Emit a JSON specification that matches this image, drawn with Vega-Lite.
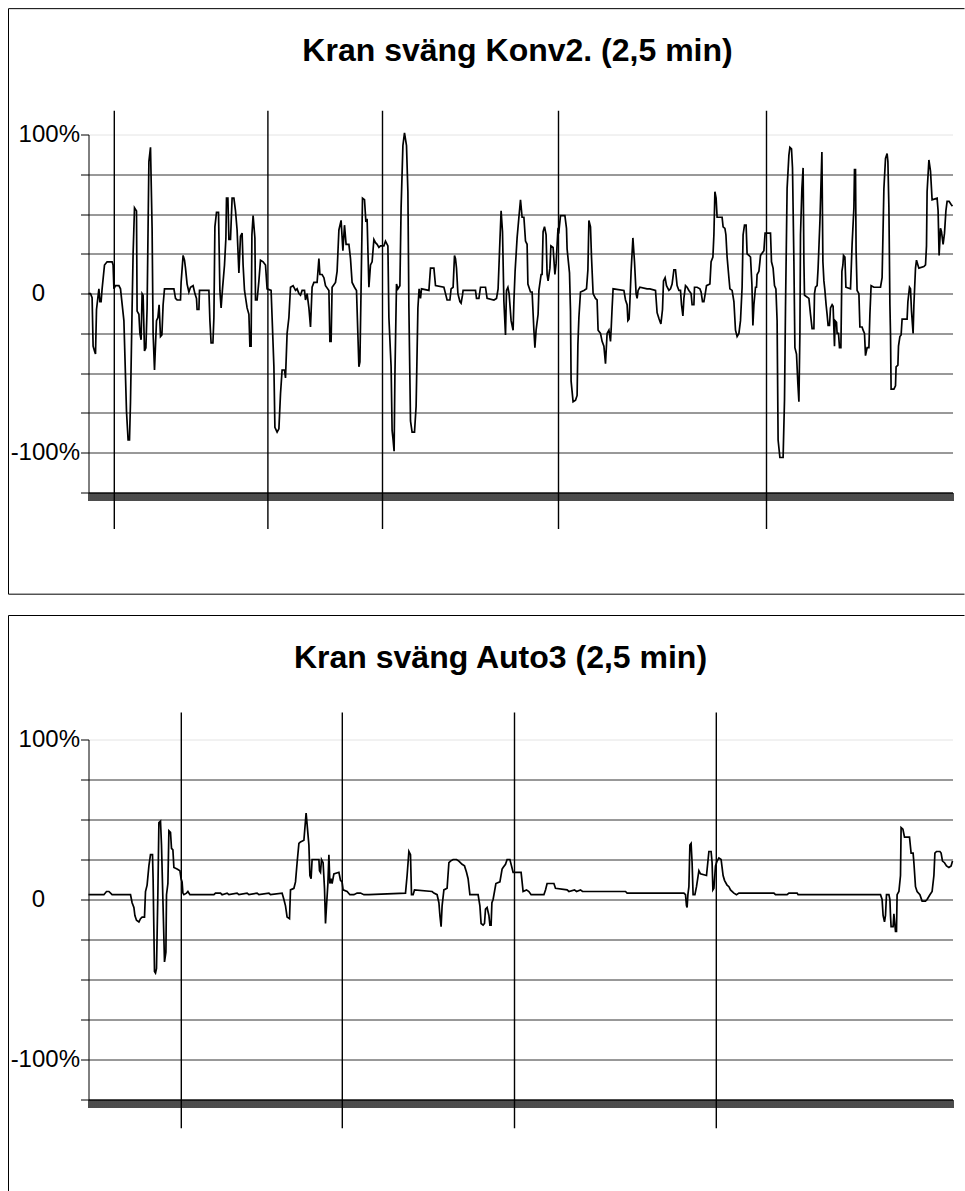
{
"$schema": "https://vega.github.io/schema/vega-lite/v6.json",
"background": "white",
"padding": {"left": 7.5, "top": 7.5, "right": 0, "bottom": 0},
"spacing": 19,
"config": {
  "view": {"stroke": null},
  "font": "Liberation Sans",
  "axisX": {"title": null, "labels": false, "tickCount": 432, "tickSize": 8, "tickColor": "black", "tickWidth": 1.4, "domainColor": "black", "domainWidth": 1, "grid": false},
  "axisY": {"title": null, "tickCount": 20, "labelExpr": "datum.value == 100 ? '100%' : datum.value == 0 ? '0' : datum.value == -100 ? '-100%' : ''", "labelFont": "Liberation Sans", "labelFontSize": 24, "labelColor": "black", "labelPadding": {"condition": {"test": "datum.value == 0", "value": 36}, "value": 1}, "labelOverlap": false, "tickSize": 8, "tickColor": "black", "tickWidth": 1, "domainColor": "black", "domainWidth": 1, "grid": true, "gridColor": {"condition": {"test": "datum.value >= 100", "value": "#e4e4e4"}, "value": "#333333"}, "gridOpacity": 1, "gridWidth": 1}
},
"datasets": {
"konv": [{"t":0,"v":0},{"t":1,"v":0},{"t":1.8,"v":-2.5},{"t":2.3,"v":-33},{"t":3,"v":-36},{"t":3.5,"v":-38},{"t":4,"v":-10},{"t":5.2,"v":3},{"t":5.7,"v":-5},{"t":6.3,"v":-5},{"t":6.8,"v":3},{"t":8,"v":18},{"t":9.3,"v":20},{"t":11.8,"v":20},{"t":12.3,"v":18},{"t":12.7,"v":3},{"t":13.5,"v":5},{"t":15.2,"v":5},{"t":16,"v":3},{"t":17.7,"v":-17},{"t":19,"v":-74},{"t":19.8,"v":-92},{"t":20.5,"v":-92},{"t":21,"v":-68},{"t":21.8,"v":-9},{"t":22.3,"v":25},{"t":23,"v":54},{"t":24,"v":52},{"t":24.3,"v":-11},{"t":25.2,"v":-13},{"t":25.7,"v":-25},{"t":26.3,"v":-29},{"t":26.8,"v":0},{"t":27.3,"v":-1},{"t":28,"v":-36},{"t":28.7,"v":-34},{"t":29.3,"v":-9},{"t":30.2,"v":83},{"t":31,"v":92},{"t":31.8,"v":41},{"t":32.3,"v":-25},{"t":33,"v":-48},{"t":34,"v":-17},{"t":34.7,"v":-15},{"t":35.3,"v":-7},{"t":36,"v":-27},{"t":36.7,"v":-26},{"t":37.3,"v":-7},{"t":38,"v":3},{"t":42.7,"v":3},{"t":43.5,"v":-3},{"t":44.3,"v":-4},{"t":46,"v":-4},{"t":46.3,"v":7},{"t":47.3,"v":24},{"t":48,"v":21},{"t":48.5,"v":16},{"t":49.3,"v":6},{"t":50.2,"v":1},{"t":51,"v":4},{"t":52.3,"v":5},{"t":53.2,"v":0},{"t":54,"v":-3},{"t":54.3,"v":-10},{"t":55.2,"v":-10},{"t":55.5,"v":2},{"t":60.2,"v":2},{"t":60.7,"v":-17},{"t":61.3,"v":-31},{"t":62.2,"v":-31},{"t":62.7,"v":-15},{"t":63.2,"v":42},{"t":64,"v":51},{"t":65,"v":51},{"t":65.7,"v":2},{"t":66.3,"v":-9},{"t":67,"v":3},{"t":68,"v":18},{"t":68.7,"v":35},{"t":69,"v":60},{"t":69.7,"v":60},{"t":70.2,"v":34},{"t":71,"v":34},{"t":71.8,"v":60},{"t":72.7,"v":60},{"t":73.5,"v":52},{"t":74.3,"v":40},{"t":75.2,"v":13},{"t":76,"v":36},{"t":76.8,"v":38},{"t":77.3,"v":18},{"t":78,"v":2},{"t":79.3,"v":-9},{"t":80.2,"v":-13},{"t":80.7,"v":-33},{"t":81.3,"v":-33},{"t":81.7,"v":37},{"t":82.3,"v":49},{"t":83.2,"v":35},{"t":83.5,"v":-4},{"t":84.3,"v":-4},{"t":85.2,"v":8},{"t":86,"v":21},{"t":87.3,"v":20},{"t":88.5,"v":18},{"t":89.3,"v":3},{"t":91.3,"v":2},{"t":91.8,"v":-15},{"t":92.7,"v":-46},{"t":93.2,"v":-84},{"t":94.3,"v":-87},{"t":95.2,"v":-85},{"t":96,"v":-63},{"t":96.8,"v":-48},{"t":98,"v":-48},{"t":98.5,"v":-53},{"t":99.3,"v":-25},{"t":100.2,"v":-15},{"t":101,"v":4},{"t":102.3,"v":5},{"t":103.5,"v":2},{"t":104.3,"v":3},{"t":105.2,"v":0},{"t":106,"v":-1},{"t":106.8,"v":2},{"t":108,"v":2},{"t":108.5,"v":-4},{"t":109.3,"v":0},{"t":110.2,"v":-9},{"t":111,"v":-21},{"t":111.8,"v":4},{"t":112.7,"v":7},{"t":114.3,"v":7},{"t":115.2,"v":22},{"t":115.7,"v":12},{"t":116.8,"v":12},{"t":117.7,"v":10},{"t":118.5,"v":5},{"t":120.2,"v":2},{"t":120.7,"v":-30},{"t":121.3,"v":-30},{"t":121.8,"v":4},{"t":123.5,"v":7},{"t":124.3,"v":14},{"t":125.2,"v":40},{"t":126.3,"v":46},{"t":127.2,"v":27},{"t":128,"v":43},{"t":128.8,"v":31},{"t":130.2,"v":31},{"t":131,"v":22},{"t":131.8,"v":7},{"t":133,"v":4},{"t":134,"v":2},{"t":135.2,"v":-46},{"t":135.7,"v":-43},{"t":136.3,"v":4},{"t":137,"v":60},{"t":138,"v":59},{"t":138.7,"v":45},{"t":139.3,"v":47},{"t":140.2,"v":4},{"t":141,"v":18},{"t":141.8,"v":20},{"t":142.7,"v":34},{"t":143.5,"v":32},{"t":144.3,"v":31},{"t":145.2,"v":29},{"t":146,"v":30},{"t":147.7,"v":30},{"t":148.5,"v":33},{"t":149.7,"v":30},{"t":150.2,"v":-15},{"t":151.3,"v":-46},{"t":151.8,"v":-86},{"t":152.3,"v":-92},{"t":152.8,"v":-99},{"t":153.2,"v":-52},{"t":154,"v":6},{"t":154.7,"v":3},{"t":155.7,"v":5},{"t":156.3,"v":54},{"t":157.2,"v":93},{"t":158,"v":101},{"t":159,"v":93},{"t":159.7,"v":64},{"t":160.2,"v":-9},{"t":161,"v":-80},{"t":161.8,"v":-87},{"t":163,"v":-87},{"t":163.8,"v":-71},{"t":164.7,"v":-9},{"t":165.3,"v":3},{"t":166,"v":-3},{"t":166.5,"v":3},{"t":170.2,"v":2},{"t":171,"v":16},{"t":172.7,"v":16},{"t":173.5,"v":5},{"t":177.7,"v":4},{"t":178.5,"v":0},{"t":179.3,"v":-4},{"t":180.7,"v":-4},{"t":181.3,"v":3},{"t":182.3,"v":4},{"t":183,"v":24},{"t":183.5,"v":22},{"t":184,"v":16},{"t":184.7,"v":0},{"t":185.7,"v":-5},{"t":186.3,"v":-6},{"t":187,"v":-1},{"t":187.3,"v":2},{"t":193.5,"v":2},{"t":194,"v":-3},{"t":195.2,"v":-3},{"t":196,"v":4},{"t":198.5,"v":4},{"t":199.3,"v":-3},{"t":202.7,"v":-4},{"t":204,"v":-3},{"t":204.8,"v":3},{"t":205.7,"v":33},{"t":206.3,"v":52},{"t":207,"v":39},{"t":207.7,"v":-5},{"t":208.5,"v":-26},{"t":209,"v":2},{"t":209.7,"v":4},{"t":210.3,"v":0},{"t":211.3,"v":-17},{"t":212.3,"v":-23},{"t":212.7,"v":-5},{"t":213.3,"v":14},{"t":214.3,"v":35},{"t":215.2,"v":48},{"t":216,"v":59},{"t":216.8,"v":48},{"t":217.7,"v":48},{"t":218.5,"v":33},{"t":219.3,"v":31},{"t":219.7,"v":6},{"t":221,"v":1},{"t":221.8,"v":1},{"t":222.7,"v":-23},{"t":223.2,"v":-34},{"t":223.8,"v":-23},{"t":224.8,"v":-13},{"t":225.2,"v":2},{"t":226.3,"v":12},{"t":226.8,"v":12},{"t":227.3,"v":39},{"t":228,"v":42},{"t":228.8,"v":37},{"t":229.3,"v":12},{"t":229.8,"v":8},{"t":230.7,"v":16},{"t":231.2,"v":30},{"t":232.3,"v":29},{"t":233.2,"v":12},{"t":233.8,"v":19},{"t":234.7,"v":40},{"t":235.2,"v":39},{"t":236,"v":49},{"t":238.2,"v":49},{"t":239,"v":41},{"t":239.3,"v":28},{"t":240.5,"v":13},{"t":241,"v":-11},{"t":241.3,"v":-55},{"t":242.3,"v":-68},{"t":243.5,"v":-67},{"t":244.3,"v":-64},{"t":244.7,"v":-32},{"t":245.2,"v":-15},{"t":246,"v":1},{"t":247.7,"v":2},{"t":249,"v":3},{"t":249.7,"v":15},{"t":250.2,"v":46},{"t":251,"v":42},{"t":251.5,"v":23},{"t":252.3,"v":0},{"t":253.5,"v":-3},{"t":254.3,"v":-4},{"t":254.8,"v":-23},{"t":256,"v":-25},{"t":256.8,"v":-30},{"t":257.7,"v":-33},{"t":258.5,"v":-44},{"t":259.3,"v":-25},{"t":260.2,"v":-23},{"t":261,"v":-30},{"t":261.3,"v":-23},{"t":261.8,"v":-9},{"t":262.3,"v":3},{"t":267.7,"v":2},{"t":268.5,"v":-4},{"t":269.3,"v":-7},{"t":269.7,"v":-17},{"t":270.3,"v":-16},{"t":270.7,"v":-5},{"t":271.3,"v":14},{"t":272.2,"v":35},{"t":273,"v":20},{"t":273.8,"v":0},{"t":274.3,"v":-3},{"t":274.8,"v":2},{"t":275.7,"v":4},{"t":279.3,"v":3},{"t":280.7,"v":3},{"t":283.5,"v":2},{"t":284.3,"v":-12},{"t":285.3,"v":-16},{"t":286.2,"v":-19},{"t":287,"v":-10},{"t":287.5,"v":8},{"t":288.3,"v":10},{"t":289,"v":5},{"t":290.2,"v":2},{"t":291,"v":3},{"t":291.8,"v":6},{"t":292.7,"v":15},{"t":293.5,"v":15},{"t":294.3,"v":5},{"t":295.2,"v":2},{"t":296,"v":2},{"t":296.5,"v":-7},{"t":297.2,"v":-14},{"t":297.7,"v":-3},{"t":298.5,"v":5},{"t":299.3,"v":4},{"t":300.2,"v":2},{"t":301.3,"v":0},{"t":301.8,"v":-7},{"t":302.7,"v":-7},{"t":303,"v":4},{"t":304.3,"v":4},{"t":305.7,"v":3},{"t":306.3,"v":1},{"t":307,"v":-5},{"t":307.7,"v":-5},{"t":308.5,"v":1},{"t":309,"v":5},{"t":310.7,"v":6},{"t":311.3,"v":20},{"t":312.2,"v":23},{"t":312.7,"v":37},{"t":313.2,"v":64},{"t":313.8,"v":60},{"t":314.3,"v":48},{"t":316.8,"v":48},{"t":317.3,"v":42},{"t":318.2,"v":41},{"t":318.7,"v":37},{"t":319.3,"v":23},{"t":320.2,"v":10},{"t":320.7,"v":3},{"t":321.8,"v":2},{"t":322.7,"v":-5},{"t":323.5,"v":-23},{"t":324.3,"v":-27},{"t":325.2,"v":-25},{"t":326,"v":-17},{"t":326.8,"v":4},{"t":327.3,"v":37},{"t":328,"v":43},{"t":328.8,"v":43},{"t":329.3,"v":25},{"t":330.2,"v":24},{"t":331,"v":23},{"t":331.7,"v":6},{"t":332.2,"v":-20},{"t":332.7,"v":-7},{"t":333.5,"v":4},{"t":334,"v":4},{"t":334.3,"v":12},{"t":335.2,"v":14},{"t":335.7,"v":20},{"t":336,"v":24},{"t":337.7,"v":27},{"t":338.3,"v":38},{"t":341,"v":38},{"t":341.5,"v":20},{"t":342.3,"v":16},{"t":343,"v":5},{"t":343.7,"v":3},{"t":344.3,"v":-17},{"t":344.8,"v":-92},{"t":345.7,"v":-103},{"t":347.3,"v":-103},{"t":348,"v":-67},{"t":348.5,"v":-9},{"t":349.3,"v":66},{"t":350.2,"v":87},{"t":350.7,"v":92},{"t":351.5,"v":91},{"t":352,"v":79},{"t":352.7,"v":20},{"t":353.2,"v":-34},{"t":354,"v":-38},{"t":354.7,"v":-57},{"t":355.2,"v":-68},{"t":355.7,"v":-25},{"t":356,"v":37},{"t":356.7,"v":66},{"t":357.3,"v":79},{"t":357.7,"v":20},{"t":358,"v":-1},{"t":360.2,"v":-3},{"t":361,"v":-13},{"t":361.8,"v":-22},{"t":362.7,"v":-22},{"t":363,"v":0},{"t":363.5,"v":4},{"t":364.3,"v":5},{"t":364.8,"v":16},{"t":365.7,"v":45},{"t":366.7,"v":89},{"t":367.2,"v":20},{"t":367.7,"v":8},{"t":368.2,"v":2},{"t":368.8,"v":-7},{"t":369.3,"v":-13},{"t":369.8,"v":-20},{"t":370.5,"v":-20},{"t":371,"v":-9},{"t":371.8,"v":-7},{"t":372.3,"v":-8},{"t":373,"v":-33},{"t":373.3,"v":-17},{"t":374,"v":-18},{"t":374.3,"v":-25},{"t":375,"v":-25},{"t":375.5,"v":-34},{"t":376.2,"v":-34},{"t":376.7,"v":14},{"t":377.2,"v":18},{"t":377.5,"v":24},{"t":378.2,"v":23},{"t":378.7,"v":4},{"t":381,"v":3},{"t":381.8,"v":31},{"t":382.7,"v":54},{"t":383,"v":78},{"t":383.5,"v":78},{"t":383.8,"v":27},{"t":384.3,"v":2},{"t":385.2,"v":0},{"t":385.7,"v":-21},{"t":386.8,"v":-21},{"t":387.3,"v":-23},{"t":388,"v":-25},{"t":388.5,"v":-39},{"t":389.3,"v":-34},{"t":390.2,"v":-34},{"t":390.7,"v":-13},{"t":391.3,"v":5},{"t":392.7,"v":4},{"t":396,"v":4},{"t":396.8,"v":10},{"t":397.7,"v":66},{"t":398.5,"v":85},{"t":399.3,"v":88},{"t":399.7,"v":83},{"t":400.2,"v":54},{"t":400.7,"v":-7},{"t":401,"v":-25},{"t":401.3,"v":-60},{"t":402.7,"v":-60},{"t":403.5,"v":-58},{"t":403.8,"v":-46},{"t":404.7,"v":-45},{"t":405,"v":-33},{"t":405.7,"v":-27},{"t":406.3,"v":-26},{"t":406.8,"v":-16},{"t":409.3,"v":-16},{"t":409.7,"v":-5},{"t":410.5,"v":4},{"t":411,"v":3},{"t":411.5,"v":-11},{"t":412.3,"v":-25},{"t":412.7,"v":-7},{"t":413.5,"v":16},{"t":414,"v":21},{"t":414.7,"v":18},{"t":415.2,"v":16},{"t":417.7,"v":17},{"t":418.5,"v":18},{"t":419,"v":30},{"t":419.3,"v":64},{"t":420.2,"v":84},{"t":421,"v":77},{"t":421.8,"v":59},{"t":424.3,"v":60},{"t":424.8,"v":52},{"t":425.3,"v":24},{"t":426,"v":41},{"t":426.5,"v":39},{"t":427.3,"v":31},{"t":428,"v":38},{"t":428.7,"v":52},{"t":429.3,"v":58},{"t":430.3,"v":58},{"t":431.3,"v":56},{"t":432,"v":55}],
"auto": [{"t":0,"v":3},{"t":7.7,"v":3},{"t":9,"v":5},{"t":10.2,"v":5},{"t":11.8,"v":3},{"t":21,"v":3},{"t":21.8,"v":-2},{"t":22.7,"v":-5},{"t":23.2,"v":-10},{"t":24,"v":-13},{"t":25.2,"v":-14},{"t":26,"v":-12},{"t":26.8,"v":-11},{"t":28,"v":-11},{"t":28.5,"v":5},{"t":29.3,"v":9},{"t":30.2,"v":21},{"t":31,"v":28},{"t":32,"v":28},{"t":32.3,"v":13},{"t":33,"v":-45},{"t":33.5,"v":-46},{"t":34,"v":-43},{"t":34.7,"v":5},{"t":35.2,"v":48},{"t":36,"v":49},{"t":36.5,"v":34},{"t":37.2,"v":0},{"t":38,"v":-39},{"t":38.7,"v":-33},{"t":39,"v":3},{"t":39.7,"v":10},{"t":40.2,"v":43},{"t":41,"v":42},{"t":41.5,"v":32},{"t":42.2,"v":31},{"t":42.7,"v":20},{"t":44.3,"v":19},{"t":45.7,"v":18},{"t":46.3,"v":13},{"t":46.8,"v":11},{"t":47.2,"v":4},{"t":47.7,"v":3},{"t":49,"v":4},{"t":49.7,"v":5},{"t":50.7,"v":3},{"t":62.7,"v":3},{"t":63.5,"v":4},{"t":66,"v":4},{"t":66.8,"v":3},{"t":69.3,"v":4},{"t":70.2,"v":3},{"t":74.3,"v":4},{"t":75.2,"v":3},{"t":79.3,"v":4},{"t":80.2,"v":3},{"t":84.3,"v":4},{"t":85.2,"v":3},{"t":90.2,"v":4},{"t":91,"v":3},{"t":96.8,"v":4},{"t":97.7,"v":0},{"t":98.5,"v":-4},{"t":99.3,"v":-11},{"t":100.5,"v":-12},{"t":101,"v":6},{"t":102.7,"v":7},{"t":103.5,"v":11},{"t":104.3,"v":23},{"t":105.2,"v":35},{"t":106,"v":36},{"t":107.7,"v":37},{"t":108.8,"v":54},{"t":109.3,"v":47},{"t":110.2,"v":34},{"t":110.7,"v":15},{"t":111.3,"v":13},{"t":111.8,"v":25},{"t":115.2,"v":25},{"t":115.5,"v":18},{"t":116,"v":17},{"t":116.5,"v":25},{"t":117.3,"v":23},{"t":118,"v":7},{"t":118.5,"v":-15},{"t":119,"v":-4},{"t":119.7,"v":10},{"t":120.2,"v":28},{"t":120.7,"v":10},{"t":121.3,"v":13},{"t":121.8,"v":10},{"t":122.7,"v":16},{"t":125.2,"v":17},{"t":126,"v":12},{"t":126.8,"v":11},{"t":127.3,"v":6},{"t":129.3,"v":5},{"t":130.7,"v":3},{"t":132.7,"v":3},{"t":134.3,"v":4},{"t":136,"v":4},{"t":137.7,"v":3},{"t":139.3,"v":3},{"t":140.2,"v":3},{"t":158.5,"v":4},{"t":159.3,"v":15},{"t":160.2,"v":30},{"t":161,"v":28},{"t":161.5,"v":3},{"t":162.3,"v":3},{"t":163,"v":6},{"t":171.8,"v":5},{"t":172.7,"v":4},{"t":174.3,"v":3},{"t":175.2,"v":-2},{"t":175.7,"v":-10},{"t":176.3,"v":-17},{"t":176.8,"v":-4},{"t":177.7,"v":6},{"t":179.3,"v":7},{"t":180.2,"v":23},{"t":181,"v":24},{"t":182.3,"v":25},{"t":184,"v":25},{"t":185.2,"v":24},{"t":186.8,"v":22},{"t":188,"v":21},{"t":189,"v":17},{"t":189.8,"v":13},{"t":190.7,"v":3},{"t":194.8,"v":3},{"t":195.7,"v":-4},{"t":196.3,"v":-15},{"t":197.3,"v":-16},{"t":198,"v":-15},{"t":198.5,"v":-6},{"t":199.3,"v":-5},{"t":200.2,"v":-10},{"t":200.7,"v":-16},{"t":201.3,"v":-16},{"t":201.7,"v":-2},{"t":202.3,"v":0},{"t":203,"v":5},{"t":203.7,"v":10},{"t":205.7,"v":11},{"t":206.8,"v":19},{"t":207.3,"v":20},{"t":208.5,"v":22},{"t":209.3,"v":25},{"t":210.7,"v":25},{"t":211.5,"v":21},{"t":212.3,"v":17},{"t":216.3,"v":17},{"t":216.8,"v":11},{"t":217.3,"v":5},{"t":219,"v":6},{"t":220.2,"v":5},{"t":221.3,"v":3},{"t":227.7,"v":3},{"t":228.5,"v":6},{"t":229.3,"v":10},{"t":232.7,"v":10},{"t":233.5,"v":7},{"t":239.3,"v":6},{"t":240.2,"v":5},{"t":243,"v":6},{"t":244,"v":5},{"t":246,"v":6},{"t":247,"v":5},{"t":268.5,"v":5},{"t":269.3,"v":4},{"t":297.7,"v":4},{"t":298.5,"v":3},{"t":299,"v":-4},{"t":299.3,"v":-5},{"t":299.7,"v":3},{"t":300.2,"v":8},{"t":300.7,"v":34},{"t":301.3,"v":35},{"t":301.8,"v":23},{"t":302.3,"v":3},{"t":303.2,"v":3},{"t":304,"v":8},{"t":305.2,"v":18},{"t":306,"v":16},{"t":309,"v":15},{"t":310.2,"v":30},{"t":311.3,"v":30},{"t":311.8,"v":23},{"t":312.2,"v":6},{"t":312.7,"v":7},{"t":313.5,"v":21},{"t":314.3,"v":24},{"t":315.2,"v":26},{"t":316.3,"v":25},{"t":317.3,"v":15},{"t":318,"v":12},{"t":319.3,"v":9},{"t":320.2,"v":8},{"t":321,"v":6},{"t":322.7,"v":4},{"t":324,"v":3},{"t":325.2,"v":4},{"t":342.7,"v":4},{"t":343.5,"v":3},{"t":349.3,"v":3},{"t":350.2,"v":4},{"t":354.3,"v":4},{"t":354.8,"v":3},{"t":396,"v":3},{"t":396.8,"v":0},{"t":397.3,"v":-10},{"t":398,"v":-14},{"t":398.5,"v":-10},{"t":399,"v":3},{"t":400.2,"v":3},{"t":400.7,"v":0},{"t":401,"v":-10},{"t":401.3,"v":-17},{"t":402.3,"v":-17},{"t":402.7,"v":-9},{"t":403.5,"v":-20},{"t":404,"v":-20},{"t":404.3,"v":3},{"t":405.2,"v":5},{"t":406,"v":15},{"t":406.3,"v":45},{"t":407.2,"v":44},{"t":408,"v":39},{"t":410.5,"v":39},{"t":411.3,"v":29},{"t":412.3,"v":29},{"t":412.7,"v":23},{"t":413.5,"v":8},{"t":414.3,"v":5},{"t":415.7,"v":3},{"t":416.8,"v":-1},{"t":418.5,"v":-1},{"t":419.3,"v":0},{"t":420.7,"v":3},{"t":421.8,"v":5},{"t":422.7,"v":15},{"t":423.2,"v":29},{"t":424,"v":30},{"t":425.7,"v":30},{"t":426.3,"v":29},{"t":427,"v":24},{"t":428,"v":23},{"t":429,"v":21},{"t":430.2,"v":20},{"t":431.3,"v":21},{"t":432,"v":24}],
"markTop": [{"t":12.9},{"t":89.7},{"t":147},{"t":235},{"t":339}],
"markBottom": [{"t":46.4},{"t":126.9},{"t":213},{"t":313.9}]
},
"vconcat": [
{
  "width": 864, "height": 358,
  "title": {"text": "Kran sväng Konv2. (2,5 min)", "font": "Liberation Sans", "fontSize": 32, "fontWeight": "bold", "color": "black", "frame": "group", "anchor": "middle", "offset": -60, "dx": -3},
  "layer": [
    {"data": {"values": [{}]}, "mark": {"type": "rule", "color": "black", "strokeWidth": 1, "clip": false}, "encoding": {"x": {"datum": -40, "type": "quantitative"}, "x2": {"datum": 438}, "y": {"datum": 179.1, "type": "quantitative"}}},
    {"data": {"values": [{}]}, "mark": {"type": "rule", "color": "black", "strokeWidth": 1, "clip": false}, "encoding": {"x": {"datum": -40, "type": "quantitative"}, "y": {"datum": 179.1, "type": "quantitative"}, "y2": {"datum": -188.9}}},
    {"data": {"values": [{}]}, "mark": {"type": "rule", "color": "black", "strokeWidth": 1, "clip": false}, "encoding": {"x": {"datum": -40, "type": "quantitative"}, "x2": {"datum": 438}, "y": {"datum": -188.9, "type": "quantitative"}}},
    {"data": {"name": "konv"}, "mark": {"type": "line", "color": "black", "strokeWidth": 1.7, "clip": false},
     "encoding": {"x": {"field": "t", "type": "quantitative", "scale": {"domain": [0, 432], "nice": false, "zero": false}}, "y": {"field": "v", "type": "quantitative", "scale": {"domain": [-125, 100], "nice": false}, "axis": {"values": [-125,-100,-75,-50,-25,0,25,50,75,100], "tickCount": 20}}}},
    {"data": {"name": "markTop"}, "mark": {"type": "rule", "color": "black", "strokeWidth": 1.4, "clip": false}, "encoding": {"x": {"field": "t", "type": "quantitative"}, "y": {"datum": 114.9, "type": "quantitative"}, "y2": {"datum": -148}}}
  ]
},
{
  "width": 864, "height": 360,
  "title": {"text": "Kran sväng Auto3 (2,5 min)", "font": "Liberation Sans", "fontSize": 32, "fontWeight": "bold", "color": "black", "frame": "group", "anchor": "middle", "offset": -60, "dx": -20},
  "layer": [
    {"data": {"values": [{}]}, "mark": {"type": "rule", "color": "black", "strokeWidth": 1, "clip": false}, "encoding": {"x": {"datum": -40, "type": "quantitative"}, "x2": {"datum": 438}, "y": {"datum": 177.5, "type": "quantitative"}}},
    {"data": {"values": [{}]}, "mark": {"type": "rule", "color": "black", "strokeWidth": 1, "clip": false}, "encoding": {"x": {"datum": -40, "type": "quantitative"}, "y": {"datum": 177.5, "type": "quantitative"}, "y2": {"datum": -183}}},
    {"data": {"name": "auto"}, "mark": {"type": "line", "color": "black", "strokeWidth": 1.7, "clip": false},
     "encoding": {"x": {"field": "t", "type": "quantitative", "scale": {"domain": [0, 432], "nice": false, "zero": false}}, "y": {"field": "v", "type": "quantitative", "scale": {"domain": [-125, 100], "nice": false}, "axis": {"values": [-125,-100,-75,-50,-25,0,25,50,75,100], "tickCount": 20}}}},
    {"data": {"name": "markBottom"}, "mark": {"type": "rule", "color": "black", "strokeWidth": 1.4, "clip": false}, "encoding": {"x": {"field": "t", "type": "quantitative"}, "y": {"datum": 116.9, "type": "quantitative"}, "y2": {"datum": -143}}}
  ]
}
]
}
